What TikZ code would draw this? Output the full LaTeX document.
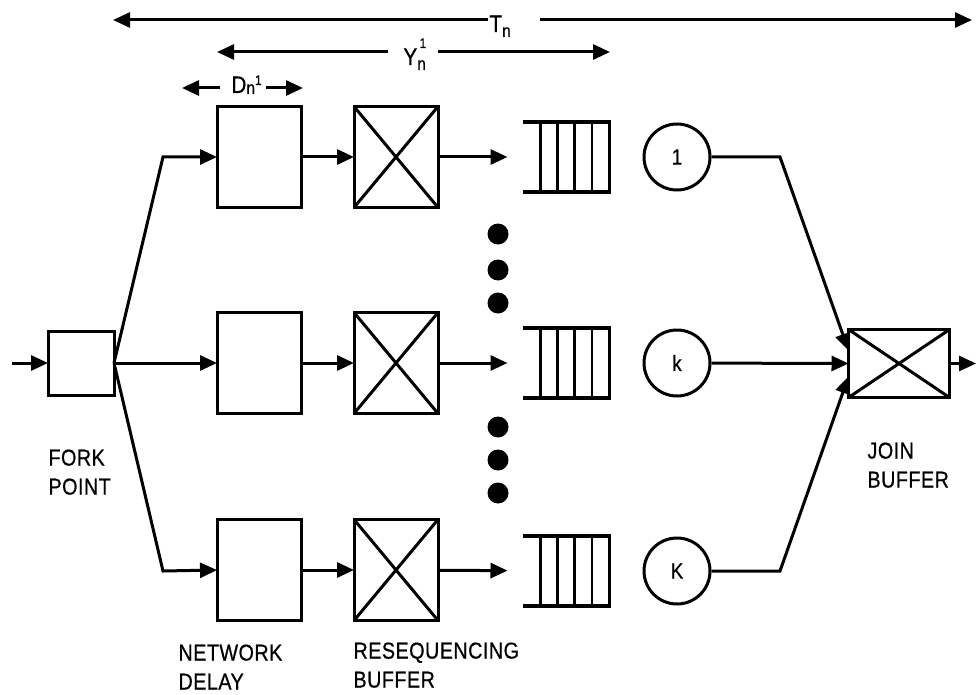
\documentclass[tikz,border=0pt]{standalone}
\usepackage{fontspec}
\setmainfont{Liberation Sans}[FakeStretch=0.86,FakeBold=0.6,LetterSpace=2]
\usetikzlibrary{arrows.meta,calc}

% a queue: open on the left, closed on the right, with slots
\newcommand\queuebox[3]{%
  \node[inner sep=0pt,outer sep=0pt,minimum width=87pt,minimum height=70pt] (#1) at (#2,#3) {};
  \draw[line width=3.2pt] (#1.north west) -- (#1.north east) -- (#1.south east) -- (#1.south west);
  \foreach \f in {0.21,0.40,0.60,0.80}
    \draw[line width=2.6pt] ($(#1.north west)!\f!(#1.north east)$) -- ($(#1.south west)!\f!(#1.south east)$);
}

\begin{document}
\begin{tikzpicture}[x=1pt,y=-1pt,
  line width=3pt,
  arr/.style={-{Triangle[length=17pt,width=15pt]}},
  box/.style={draw,rectangle,inner sep=0pt,outer sep=0pt,minimum width=84pt,minimum height=101pt},
  xbox/.style={box,path picture={\draw[line width=3pt]
      (path picture bounding box.north west) -- (path picture bounding box.south east)
      (path picture bounding box.south west) -- (path picture bounding box.north east);}},
  srv/.style={draw,circle,inner sep=0pt,minimum size=66pt,font=\fontsize{22}{22}\selectfont},
  dot/.style={circle,fill,inner sep=0pt,minimum size=21pt},
  lbl/.style={anchor=north west,inner sep=0pt,align=left,font=\fontsize{23}{29}\selectfont},
  dim/.style={anchor=base west,inner sep=0pt,font=\fontsize{24}{24}\selectfont},
]
\useasboundingbox (0,0) rectangle (976,695);

% fork point
\node[box,minimum width=66pt,minimum height=64pt] (fork) at (81,363) {};

% network delays
\node[box] (d1) at (259,157) {};
\node[box] (dk) at (259,363) {};
\node[box] (dK) at (259,570) {};

% resequencing buffers
\node[xbox] (r1) at (396,157) {};
\node[xbox] (rk) at (396,363) {};
\node[xbox] (rK) at (396,570) {};

% queues
\queuebox{q1}{566}{157}
\queuebox{qk}{566}{363}
\queuebox{qK}{566}{571}

% servers
\node[srv] (c1) at (677,157) {1};
\node[srv] (ck) at (677,363) {k};
\node[srv] (cK) at (677,571) {K};

% ellipsis dots
\node[dot] (e1) at (498,234) {};
\node[dot] (e2) at (498,270) {};
\node[dot] (e3) at (498,303) {};
\node[dot] (e4) at (498,427) {};
\node[dot] (e5) at (498,460) {};
\node[dot] (e6) at (498,493) {};

% join buffer
\node[xbox,minimum width=101pt,minimum height=68pt] (join) at (899,363.5) {};

% connectors
\coordinate (in) at (12,363);
\coordinate (b1) at (163,157);
\coordinate (bK) at (163,571);
\coordinate (j1) at (780,157);
\coordinate (jK) at (780,571);
\coordinate (out) at (976,363.5);

\draw[arr] (in) -- (fork.west);
\draw[arr] (fork.east) -- (b1) -- (d1.west);
\draw[arr] (fork.east) -- (dk.west);
\draw[arr] (fork.east) -- (bK) -- (dK.west);

\draw[arr] (d1) -- (r1);
\draw[arr] (dk) -- (rk);
\draw[arr] (dK) -- (rK);

\draw[arr,shorten >=15pt] (r1) -- (q1);
\draw[arr,shorten >=15pt] (rk) -- (qk);
\draw[arr,shorten >=15pt] (rK) -- (qK);

\draw[arr] (c1) -- (j1) -- ($(join.west)+(0,-13)$);
\draw[arr] (ck) -- (join.west);
\draw[arr] (cK) -- (jK) -- ($(join.west)+(0,13)$);
\draw[arr] (join.east) -- (out);

% time spans
\node[dim] (tn) at (488,32) {T\raisebox{-5pt}{\fontsize{18}{18}\selectfont n}};
\node[dim] (yn) at (402,65) {Y\rlap{\raisebox{17pt}{\fontsize{14}{14}\selectfont\,1}}\raisebox{-5pt}{\fontsize{18}{18}\selectfont n}};
\node[dim] (dn) at (230,93) {D\raisebox{-1pt}{\fontsize{18}{18}\selectfont n}\raisebox{8pt}{\fontsize{14}{14}\selectfont 1}};

\coordinate (tL) at (113,20);
\coordinate (tR) at (972,20);
\coordinate (tA) at (488,20);
\coordinate (tB) at (540,20);
\draw[arr] (tA) -- (tL);
\draw[arr] (tB) -- (tR);

\coordinate (yL) at (217,52);
\coordinate (yR) at (610,52);
\coordinate (yA) at (388,52);
\coordinate (yB) at (438,52);
\draw[arr] (yA) -- (yL);
\draw[arr] (yB) -- (yR);

\coordinate (dL) at (182,88);
\coordinate (dR) at (303,88);
\coordinate (dA) at (220,88);
\coordinate (dB) at (266,88);
\draw[arr] (dA) -- (dL);
\draw[arr] (dB) -- (dR);

% labels
\node[lbl] (forklbl) at (47,448) {FORK\\POINT};
\node[lbl] (joinlbl) at (866,441) {JOIN\\BUFFER};
\node[lbl] (netlbl) at (177,643) {NETWORK\\DELAY};
\node[lbl] (reslbl) at (352,641) {RESEQUENCING\\BUFFER};
\end{tikzpicture}
\end{document}
